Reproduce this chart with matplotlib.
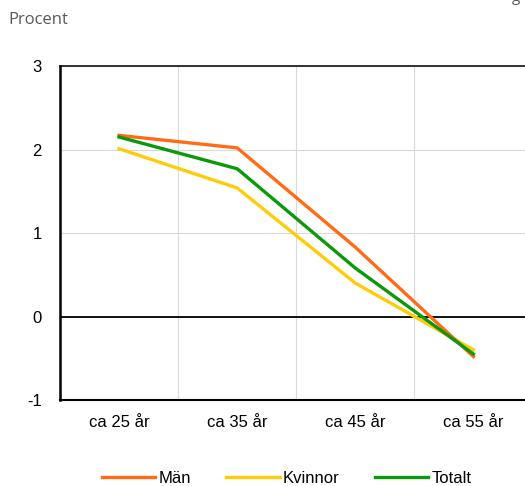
import matplotlib.pyplot as plt
import matplotlib.ticker as ticker

plt.rcParams['font.family'] = ['Liberation Sans', 'DejaVu Sans']
plt.rcParams['axes.unicode_minus'] = False

# --- Data
ages = ["ca 25 år", "ca 35 år", "ca 45 år", "ca 55 år"]
man = [2.17, 2.02, 0.83, -0.48]
kvinnor = [2.01, 1.54, 0.40, -0.40]
totalt = [2.15, 1.77, 0.58, -0.45]

c_man = "#FF6B16"
c_kvinnor = "#FFCC0A"
c_totalt = "#0A990A"

fig = plt.figure(figsize = (5.25, 4.86), dpi = 100)
ax = fig.add_axes([0.1143, 0.177, 0.9, 0.687])

x = range(len(ages))
ax.plot(x, man, color = c_man, lw = 2.4, label = "Män", zorder = 4)
ax.plot(x, kvinnor, color = c_kvinnor, lw = 2.4, label = "Kvinnor", zorder = 3)
ax.plot(x, totalt, color = c_totalt, lw = 2.4, label = "Totalt", zorder = 5)

ax.set_xlim(-0.5, 3.5)
ax.set_ylim(-1, 3)
ax.set_xticks(list(x))
ax.set_xticklabels(ages)
ax.set_yticks([-1, 0, 1, 2, 3])
ax.xaxis.set_minor_locator(ticker.FixedLocator([0.5, 1.5, 2.5]))

ax.grid(True, axis = "y", which = "major", color = "#D9D9D9", lw = 0.8, zorder = 0)
ax.grid(True, axis = "x", which = "minor", color = "#D9D9D9", lw = 0.8, zorder = 0)
ax.axhline(0, color = "black", lw = 1.3, zorder = 2)

for side in ["top", "bottom", "left"]:
    ax.spines[side].set_color("black")
ax.spines["top"].set_linewidth(1.1)
ax.spines["bottom"].set_linewidth(1.5)
ax.spines["left"].set_linewidth(1.8)
ax.spines["right"].set_visible(False)

ax.tick_params(axis = "both", which = "both", length = 0, labelsize = 12, colors = "black")
ax.tick_params(axis = "y", pad = 13)
ax.tick_params(axis = "x", pad = 10.5)

fig.text(0.015, 0.958, "Procent", fontsize = 12, color = "#595959",
         family = ["Open Sans", "DejaVu Sans"], va = "center", ha = "left")
# clipped note at the top right edge
fig.text(0.982, 1.006, "g", fontsize = 11, color = "#595959",
         family = ["Open Sans", "DejaVu Sans"], va = "center", ha = "center")

fig.legend(
    loc = "lower center", bbox_to_anchor = (0.546, -0.031), ncol = 3,
    frameon = False, fontsize = 12, handlelength = 3.2, handletextpad = 0.2,
    columnspacing = 2.1
)

plt.savefig("out.png", dpi = 100, facecolor = "white")
